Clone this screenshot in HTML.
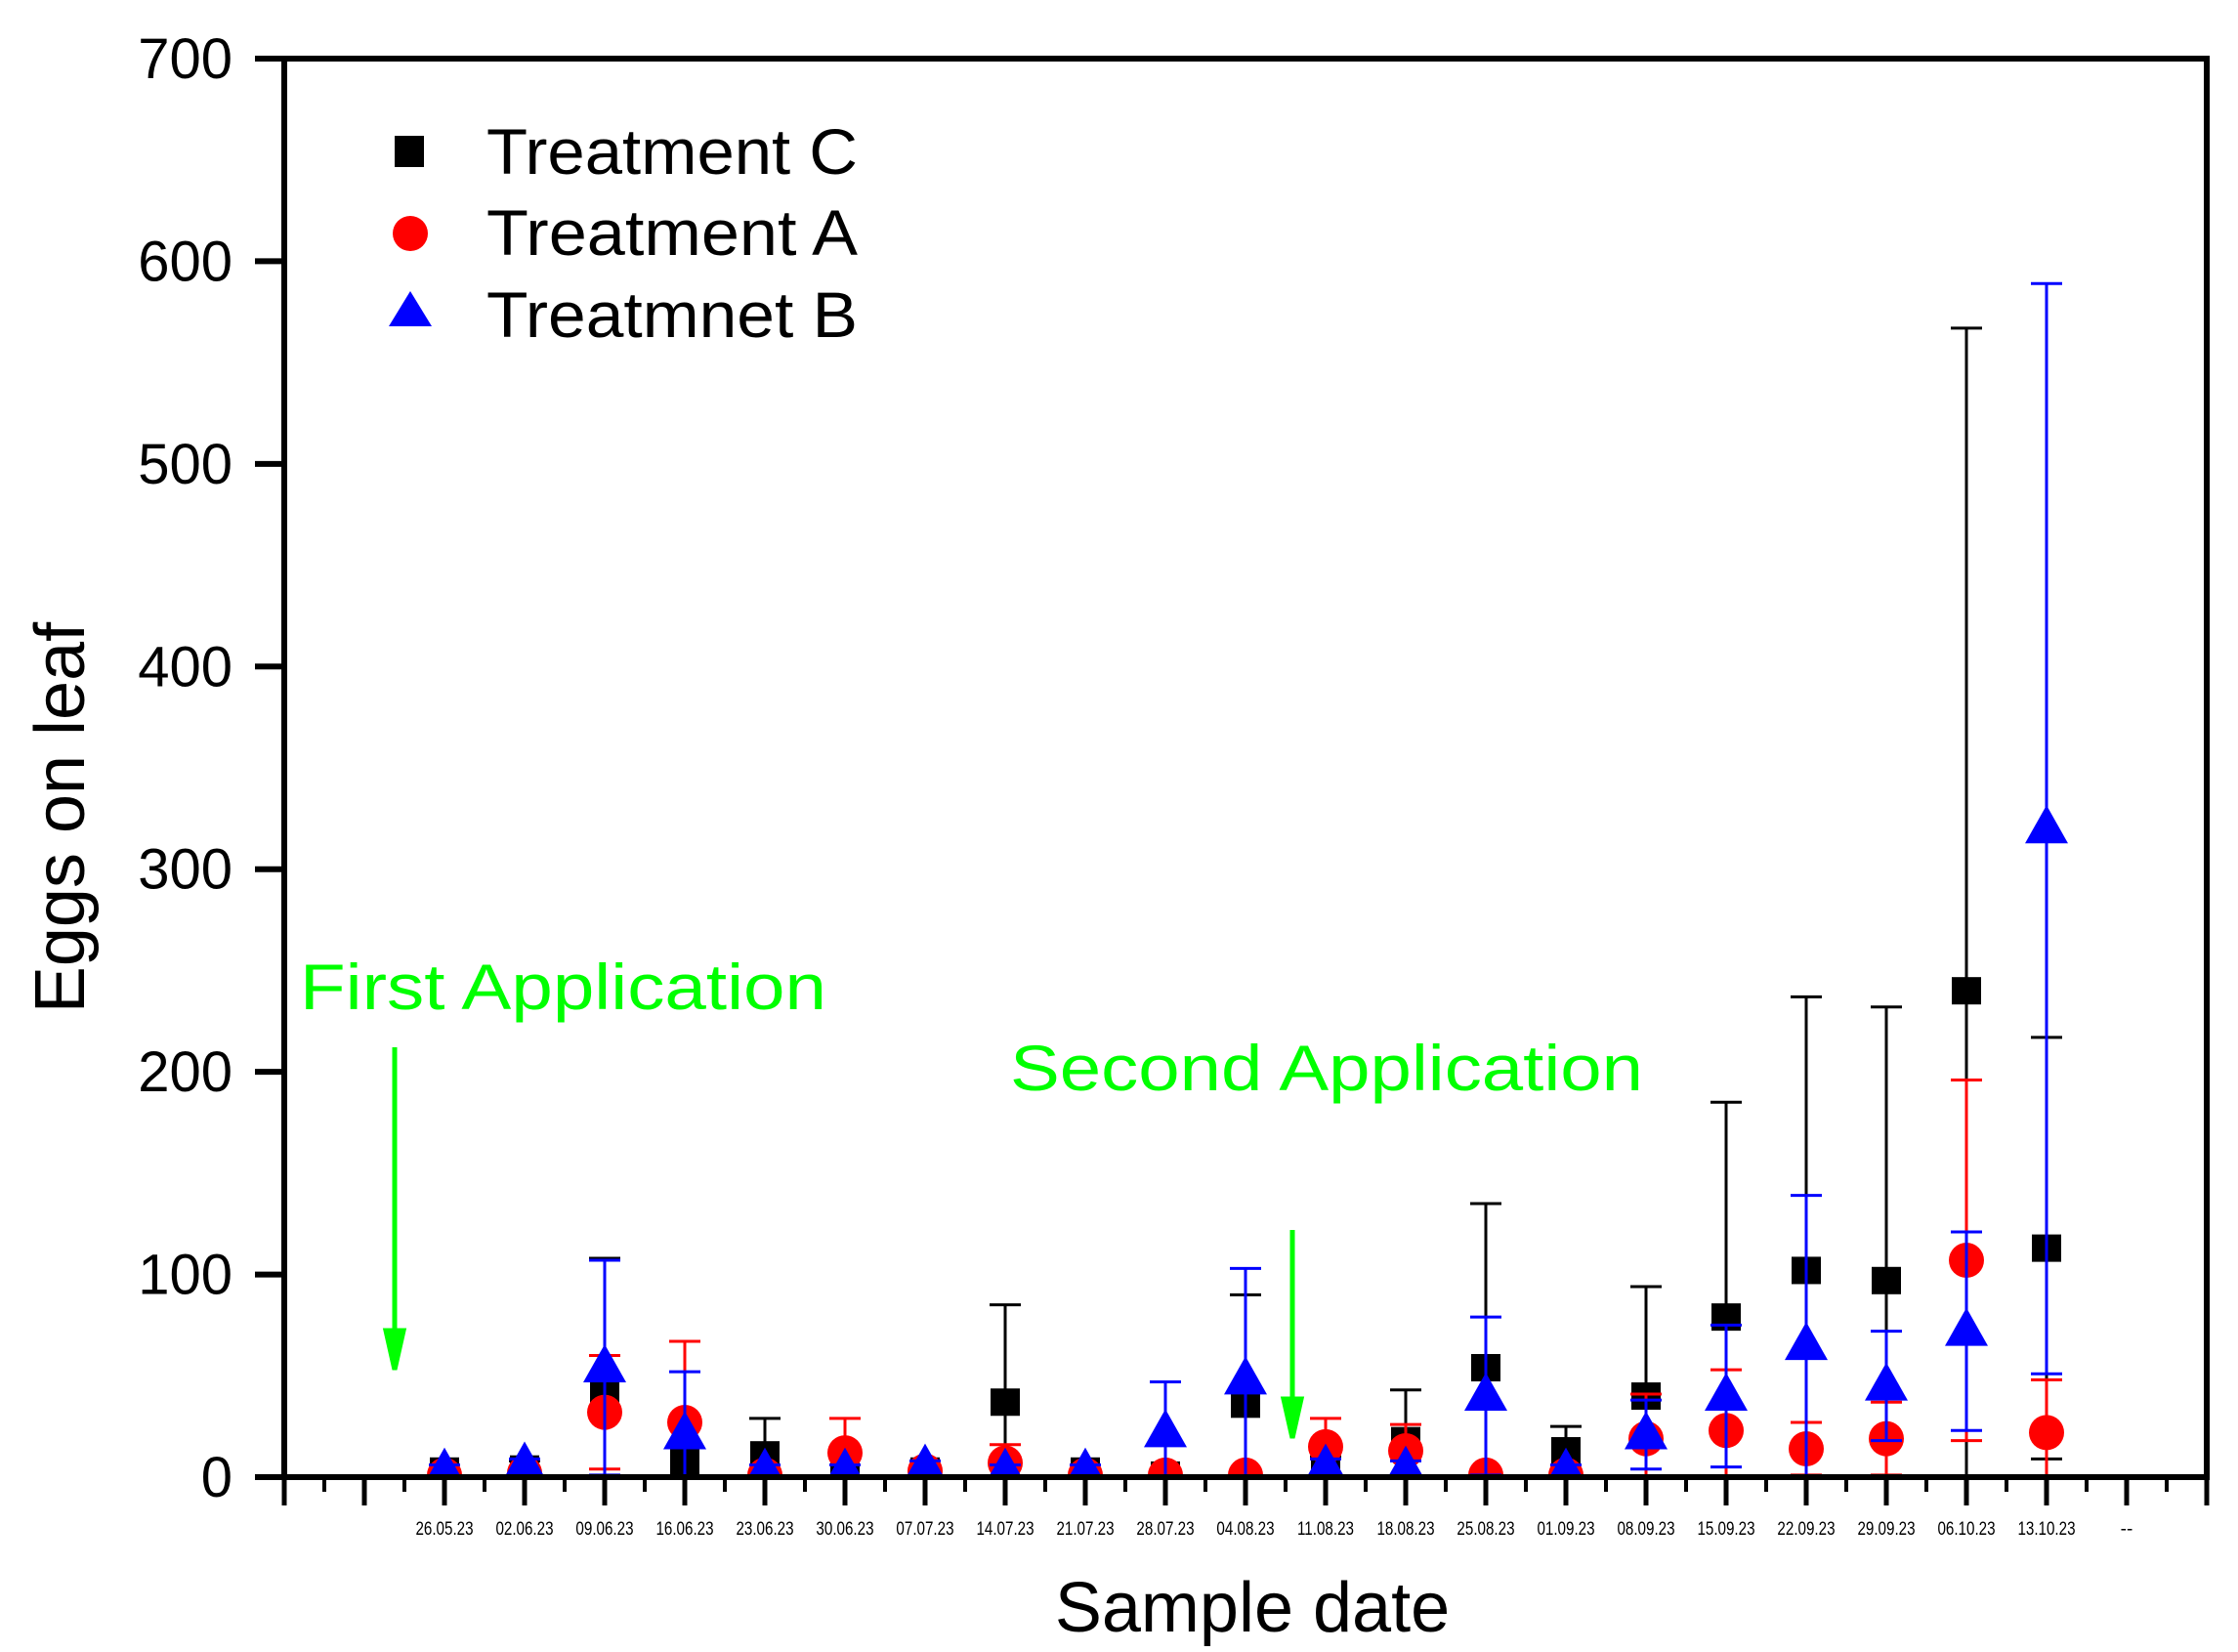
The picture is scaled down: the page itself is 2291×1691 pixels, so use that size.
<!DOCTYPE html>
<html><head><meta charset="utf-8"><style>
html,body{margin:0;padding:0;background:#fff}
svg{display:block}
text{font-family:"Liberation Sans",Arial,sans-serif}
</style></head><body>
<svg id="chart" width="2291" height="1691" viewBox="0 0 2291 1691">
<g id="plot"></g>
</svg>
<script>
const dates=["26.05.23","02.06.23","09.06.23","16.06.23","23.06.23","30.06.23","07.07.23","14.07.23","21.07.23","28.07.23","04.08.23","11.08.23","18.08.23","25.08.23","01.09.23","08.09.23","15.09.23","22.09.23","29.09.23","06.10.23","13.10.23"];
const cMean=[3,4,42,8,11,5,3,37,3,1,36,5,18,54,13,40,79,102,97,240,113];
const cErr=[3,4,66,10,18,10,3,48,3,1,54,5,25,81,12,54,106,135,135,327,104];
const aMean=[1,2,32,27,1,12,3,7,1,1,1,15,13,1,1,19,23,14,19,107,22];
const aErr=[1,2,28,40,1,17,3,9,1,1,1,14,13,1,1,22,30,13,18,89,26];
const bMean=[3,6,54,21,3,3,5,3,3,22,48,5,4,40,3,21,40,65,45,72,320];
const bErr=[3,3,53,31,3,3,3,3,3,25,55,4,4,39,3,17,35,74,27,49,269];
const yTicks=[0,100,200,300,400,500,600,700];
const NS="http://www.w3.org/2000/svg";
const X0=291, DX=82, Y0=1512, YS=1452/700;
function xs(i){return X0+DX*i;}
function ys(v){return Y0-v*YS;}
const svg=document.getElementById('chart');
const plot=document.getElementById('plot');
function mk(tag,attrs,parent){const e=document.createElementNS(NS,tag);for(const k in attrs)e.setAttribute(k,attrs[k]);(parent||svg).appendChild(e);return e;}
const defs=mk('defs',{});
const cp=mk('clipPath',{id:'cp'},defs);
mk('rect',{x:X0,y:60,width:DX*24,height:Y0-60},cp);
plot.setAttribute('clip-path','url(#cp)');
const frame=mk('rect',{x:X0,y:60,width:DX*24,height:Y0-60,fill:'none',stroke:'#000','stroke-width':6});


yTicks.forEach(v=>{
 const t=mk('line',{x1:X0-30,x2:X0,y1:ys(v),y2:ys(v),stroke:'#000','stroke-width':6});
 
 
 const l=mk('text',{x:238,y:ys(v)+20,'text-anchor':'end','font-size':58});
 l.textContent=v;
 
 
});
for(let i=0;i<=48;i++){
 const x=X0+DX*i/2, major=i%2===0;
 const t=mk('line',{x1:x,x2:x,y1:Y0,y2:major?1541:1527,stroke:'#000','stroke-width':major?5:4});
 
 
}
dates.forEach((d,i)=>{
 const l=mk('text',{x:xs(i+2),y:1571,'text-anchor':'middle','font-size':19,transform:`translate(${xs(i+2)},0) scale(0.8,1) translate(${-xs(i+2)},0)`});
 l.textContent=d;
 
 
});
const dl=mk('text',{x:xs(23),y:1571,'text-anchor':'middle','font-size':19});
dl.textContent='--';


function series(mean,err,color,shape,name){
 const g=mk('g',{},plot);
 
 
 mean.forEach((m,i)=>{
  const x=xs(i+2);
  let el;
  if(shape==='sq') el=mk('rect',{x:x-15,y:ys(m)-14,width:30,height:28,fill:color},g);
  else if(shape==='ci') el=mk('ellipse',{cx:x,cy:ys(m),rx:18,ry:18,fill:color},g);
  else el=mk('polygon',{points:`${x},${ys(m)-24} ${x-22},${ys(m)+15} ${x+22},${ys(m)+15}`,fill:color},g);
  
  
  const hi=ys(m+err[i]), lo=ys(m-err[i]);
  const e=mk('path',{d:`M${x},${hi}V${lo}M${x-16},${hi}H${x+16}M${x-16},${lo}H${x+16}`,stroke:color,'stroke-width':3,fill:'none'},g);
  
  
 });
}
series(cMean,cErr,'#000','sq','treatment-c');
series(aMean,aErr,'#ff0000','ci','treatment-a');
series(bMean,bErr,'#0000ff','tr','treatment-b');
const lg=mk('g',{});


const l1=mk('rect',{x:404,y:139,width:30,height:32,fill:'#000'},lg);


const l2=mk('ellipse',{cx:420,cy:239,rx:18,ry:18,fill:'#ff0000'},lg);


const l3=mk('polygon',{points:'420,298 398,334 442,334',fill:'#0000ff'},lg);


[["Treatment C",178],["Treatment A",261],["Treatmnet B",345]].forEach(([t,y])=>{
 const e=mk('text',{x:498,y:y,'font-size':66,textLength:380,lengthAdjust:'spacingAndGlyphs'},lg);
 e.textContent=t;
 
 
});
function ann(txt,x,y,len,ax,y1,y2,name){
 const t=mk('text',{x:x,y:y,'font-size':66,fill:'#00ff00',textLength:len,lengthAdjust:'spacingAndGlyphs'});
 t.textContent=txt;
 
 
 const a=mk('path',{d:`M${ax},${y1}V${y2-30}M${ax-9},${y2-40}L${ax},${y2}L${ax+9},${y2-40}Z`,stroke:'#00ff00','stroke-width':5,fill:'#00ff00'});
 
 
}
ann('First Application',307,1033,539,404,1072,1402,'first-application');
ann('Second Application',1034,1116,648,1323,1259,1472,'second-application');
const xt=mk('text',{x:1282,y:1670,'text-anchor':'middle','font-size':72});
xt.textContent='Sample date';


const yt=mk('text',{x:0,y:0,'text-anchor':'middle','font-size':72,transform:'translate(86,837) rotate(-90)'});
yt.textContent='Eggs on leaf';


</script>
</body></html>
